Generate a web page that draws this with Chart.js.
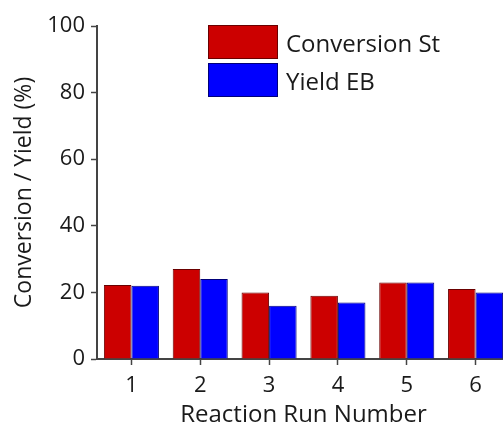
<!DOCTYPE html>
<html>
<head>
<meta charset="utf-8">
<script src="https://cdn.jsdelivr.net/npm/chart.js@4.4.1/dist/chart.umd.min.js"></script>
<style>
  html, body { margin: 0; padding: 0; background: #fff; overflow: hidden; }
  #wrap { width: 512px; height: 430px; }
</style>
</head>
<body>
<div id="wrap"><canvas id="runChart" width="512" height="430"></canvas></div>
<script>
// --- DADOS ---
const runLabels = ['1', '2', '3', '4', '5', '6'];
const conversionSt = [22.2, 27, 20, 19, 23, 21];
const yieldEB = [22, 24, 16, 17, 23, 20];
const seriesNames = ['Conversion St', 'Yield EB'];
const yTicks = [0, 20, 40, 60, 80, 100];

const FONT = '"Open Sans", "DejaVu Sans", sans-serif';
const INK = '#1a1a1a';

// legenda desenhada à mão, como no original (caixas empilhadas)
const boxLegend = {
  id: 'boxLegend',
  afterDraw(chart) {
    const ctx = chart.ctx;
    ctx.save();
    chart.data.datasets.forEach((ds, i) => {
      const x = 208, y = 25 + i * 38;
      ctx.fillStyle = ds.backgroundColor;
      ctx.fillRect(x, y, 70, 34);
      ctx.strokeStyle = ds.borderColor;
      ctx.lineWidth = 1;
      ctx.strokeRect(x + 0.5, y + 0.5, 69, 33);
      ctx.fillStyle = INK;
      ctx.font = '24px ' + FONT;
      ctx.textBaseline = 'middle';
      ctx.fillText(ds.label, 286, y + 20);
    });
    ctx.restore();
  },
};

const ctx = document.getElementById('runChart').getContext('2d');
new Chart(ctx, {
  type: 'bar',
  data: {
    labels: runLabels,
    datasets: [
      {
        label: seriesNames[0],
        data: conversionSt,
        backgroundColor: '#cc0000',
        borderColor: '#6a0000',
        borderWidth: 1,
      },
      {
        label: seriesNames[1],
        data: yieldEB,
        backgroundColor: '#0000ff',
        borderColor: '#00007a',
        borderWidth: 1,
      },
    ],
  },
  options: {
    responsive: false,
    animation: false,
    layout: { padding: { top: 26, right: 2, left: 0, bottom: 0 } },
    datasets: { bar: { categoryPercentage: 0.8, barPercentage: 1 } },
    scales: {
      x: {
        afterFit: (s) => { s.height = 71; },
        grid: { display: true, drawOnChartArea: false, offset: false, tickLength: 6, color: '#444', tickWidth: 1.5 },
        border: { display: true, color: '#444', width: 2 },
        ticks: { color: INK, padding: 8, font: { family: FONT, size: 22 } },
        title: { display: true, text: 'Reaction Run Number', color: INK, padding: { top: 0, bottom: 0 }, font: { family: FONT, size: 24 } },
      },
      y: {
        min: 0,
        max: 100,
        afterFit: (s) => { s.width = 97; },
        afterBuildTicks: (s) => { s.ticks = yTicks.map((v) => ({ value: v })); },
        grid: { display: true, drawOnChartArea: false, tickLength: 6, color: '#444', tickWidth: 1.5 },
        border: { display: true, color: '#444', width: 2 },
        ticks: { color: INK, padding: 6, font: { family: FONT, size: 22 } },
        title: { display: true, text: 'Conversion / Yield (%)', color: INK, padding: { top: 11, bottom: 0 }, font: { family: FONT, size: 23 } },
      },
    },
    plugins: {
      legend: { display: false },
      tooltip: { enabled: false },
    },
  },
  plugins: [boxLegend],
});
</script>
</body>
</html>
